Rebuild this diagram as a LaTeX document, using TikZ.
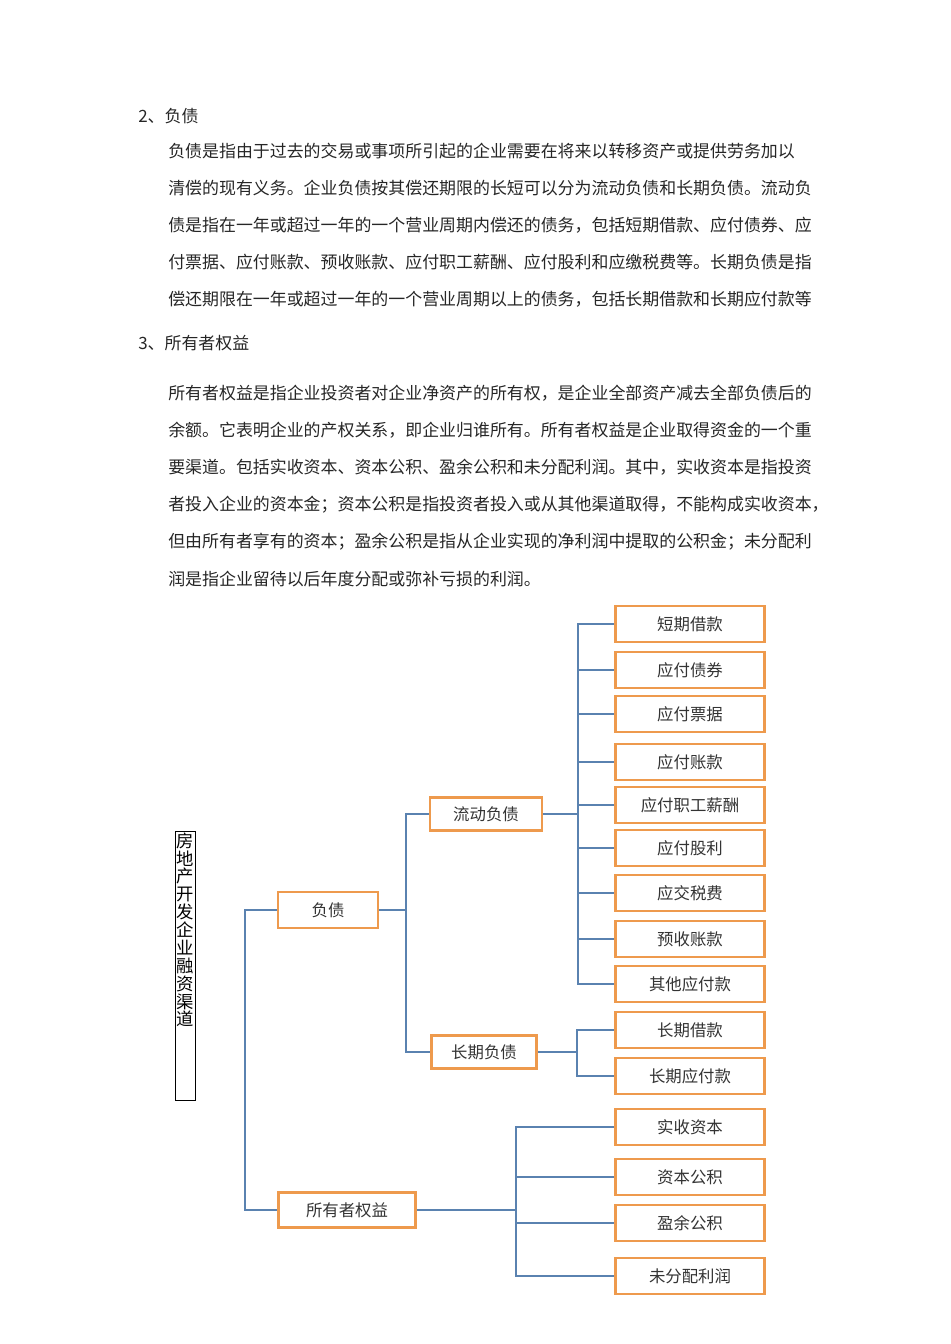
\documentclass[tikz,border=0pt]{standalone}
\usepackage{fontspec}
\setmainfont{Noto Sans CJK SC}
\begin{document}
\begin{tikzpicture}[x=0.75pt,y=-0.75pt,
  para/.style={anchor=west,inner sep=0,font=\fontsize{12.7}{14}\selectfont,text=black!85},
  obox/.style={line width=2.2pt,minimum width=112pt,minimum height=27pt,inner sep=0,font=\fontsize{12.3}{13}\selectfont,text=black!80},
  conn/.style={line width=0.8pt}]
\definecolor{ob}{HTML}{EE9A4D}
\definecolor{ln}{HTML}{5A82B0}
\tikzset{obox/.append style={draw=ob},conn/.append style={draw=ln}}
\useasboundingbox (0,0) rectangle (950,1344);
% text
\node[para] (h2) at (138,116) {2、负债};
\node[para] (p1) at (168,151) {负债是指由于过去的交易或事项所引起的企业需要在将来以转移资产或提供劳务加以};
\node[para] (p2) at (168,188) {清偿的现有义务。企业负债按其偿还期限的长短可以分为流动负债和长期负债。流动负};
\node[para] (p3) at (168,225) {债是指在一年或超过一年的一个营业周期内偿还的债务，包括短期借款、应付债券、应};
\node[para] (p4) at (168,262) {付票据、应付账款、预收账款、应付职工薪酬、应付股利和应缴税费等。长期负债是指};
\node[para] (p5) at (168,299) {偿还期限在一年或超过一年的一个营业周期以上的债务，包括长期借款和长期应付款等};
\node[para] (h3) at (138,343) {3、所有者权益};
\node[para] (q1) at (168,393) {所有者权益是指企业投资者对企业净资产的所有权，是企业全部资产减去全部负债后的};
\node[para] (q2) at (168,430) {余额。它表明企业的产权关系，即企业归谁所有。所有者权益是企业取得资金的一个重};
\node[para] (q3) at (168,467) {要渠道。包括实收资本、资本公积、盈余公积和未分配利润。其中，实收资本是指投资};
\node[para] (q4) at (168,505) {者投入企业的资本金；资本公积是指投资者投入或从其他渠道取得，不能构成实收资本，};
\node[para] (q5) at (168,542) {但由所有者享有的资本；盈余公积是指从企业实现的净利润中提取的公积金；未分配利};
\node[para] (q6) at (168,579) {润是指企业留待以后年度分配或弥补亏损的利润。};
% title
\node[draw=black,line width=0.5pt,minimum width=15pt,minimum height=202pt,inner sep=0,anchor=north,font=\fontsize{13}{13.4}\selectfont] (root) at (185,831)
 {\parbox[t][200pt][t]{13pt}{\centering 房\\地\\产\\开\\发\\企\\业\\融\\资\\渠\\道}};
% mid boxes
\node[obox,minimum width=75pt,minimum height=27pt] (fz) at (328,910) {负债};
\node[obox,minimum width=103pt,minimum height=26pt] (qy) at (347,1210) {所有者权益};
\node[obox,minimum width=84pt,minimum height=25pt] (ld) at (486,814) {流动负债};
\node[obox,minimum width=79pt,minimum height=25pt] (cq) at (484,1052) {长期负债};
% leaves
\foreach \n/\y/\t in {a/624/短期借款,b/670/应付债券,c/714/应付票据,d/762/应付账款,e/805/应付职工薪酬,f/848/应付股利,g/893/应交税费,h/939/预收账款,i/984/其他应付款,j/1030/长期借款,k/1076/长期应付款,l/1127/实收资本,m/1177/资本公积,n/1223/盈余公积,o/1276/未分配利润}
  \node[obox] (\n) at (690,\y) {\t};
% connectors
\coordinate (t1) at (245,0); \coordinate (t2) at (406,0);
\coordinate (t3) at (578,0); \coordinate (t4) at (577,0); \coordinate (t5) at (516,0);
\draw[conn] (fz.west) -| (t1 |- qy.west) -- (qy.west);
\draw[conn] (fz.east) -- (t2 |- fz.east);
\draw[conn] (ld.west) -| (t2 |- cq.west) -- (cq.west);
\draw[conn] (ld.east) -- (t3 |- ld.east);
\draw[conn] (a.west) -| (t3 |- i.west) -- (i.west);
\foreach \n in {b,c,d,e,f,g,h} \draw[conn] (t3 |- \n.west) -- (\n.west);
\draw[conn] (cq.east) -- (t4 |- cq.east);
\draw[conn] (j.west) -| (t4 |- k.west) -- (k.west);
\draw[conn] (qy.east) -- (t5 |- qy.east);
\draw[conn] (l.west) -| (t5 |- o.west) -- (o.west);
\foreach \n in {m,n} \draw[conn] (t5 |- \n.west) -- (\n.west);
\end{tikzpicture}
\end{document}
